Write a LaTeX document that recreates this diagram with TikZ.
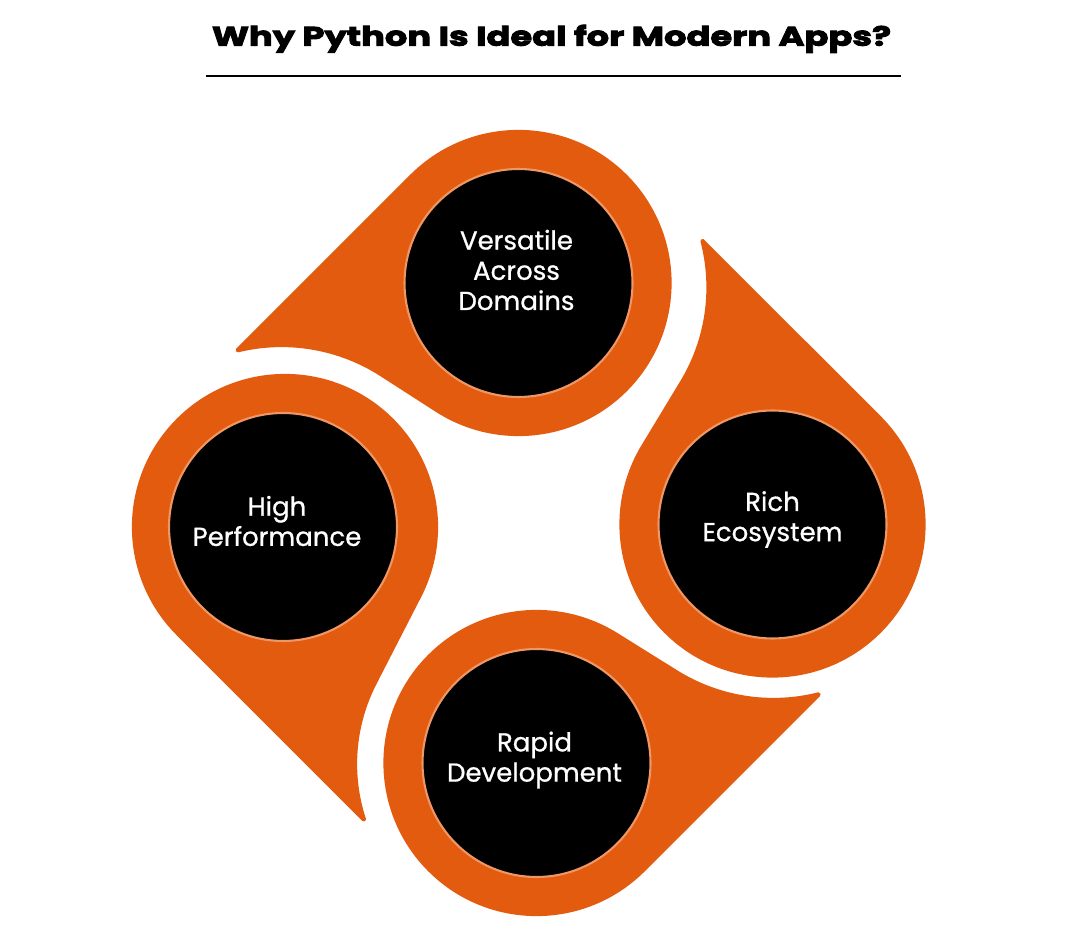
\documentclass[tikz,border=0pt]{standalone}
\usepackage{fontspec}
\setmainfont{Poppins}
\newfontfamily\titlefont{Poppins}[BoldFeatures={FakeBold=3.5,FakeStretch=1.32}]
\newfontfamily\labelfont{Poppins}[UprightFeatures={FakeBold=0.8}]
\usetikzlibrary{positioning}
\definecolor{droporange}{RGB}{227,91,15}
\definecolor{glow}{RGB}{238,150,100}

\tikzset{
  drop/.style={fill=droporange, draw=droporange, line width=1.2pt, line join=round},
  hub/.style={circle, fill=black, draw=glow, line width=0.6pt, minimum size=2.28cm, inner sep=0pt},
  hubtext/.style={text=white, align=center, font=\labelfont\fontsize{7.4}{8.6}\selectfont},
  heading/.style={font=\titlefont\bfseries\fontsize{7.6}{9}\selectfont}
}

\begin{document}
\begin{tikzpicture}
\useasboundingbox (0,0) rectangle (10.8,-9.36);
\coordinate (mid) at (5.27,-5.24);
\node[heading, anchor=base] (title) at (5.515,-0.457) {Why Python Is Ideal for Modern Apps?};
\draw[line width=0.6pt] (2.06,-0.76) -- (9.01,-0.76);
\foreach \k/\dx/\dy/\gap/\pa/\la/\tb in {0/-0.035/-0.01/1.85/-122.8/57.2/103.7,
    1/0.035/-0.055/1.83/-121.15/58.85/104.7, 2/0.045/0.03/1.84/-121.94/58.06/104.2,
    3/0/0.02/1.77/-117.2/62.6/108.26}{
  \fill[drop, shift={(mid)}, shift={(\dx,\dy)}, rotate=-90*\k]
    ([shift={(-2.42,-0.05)}]\tb:\gap) -- ([shift={(-0.05,2.42)}]135:1.51)
    arc[start angle=135, end angle=\pa, radius=1.51] -- ([shift={(-2.42,-0.05)}]\la:\gap)
    arc[start angle=\la, end angle=\tb, radius=\gap] -- cycle;
}
\node[hub] (versatile) at (5.185,-2.83) {};
\node[hub] (ecosystem) at (7.725,-5.245) {};
\node[hub] (rapid) at (5.365,-7.63) {};
\node[hub] (performance) at (2.83,-5.27) {};
\node[hubtext] (versatiletext) at ([xshift=-0.02cm, yshift=0.13cm]versatile.center) {Versatile\\Across\\Domains};
\node[hubtext] (ecosystemtext) at ([yshift=0.05cm]ecosystem.center) {Rich\\Ecosystem};
\node[hubtext] (rapidtext) at ([xshift=-0.02cm, yshift=0.03cm]rapid.center) {Rapid\\Development};
\node[hubtext] (performancetext) at ([xshift=-0.06cm, yshift=0.06cm]performance.center) {High\\Performance};
\end{tikzpicture}
\end{document}
